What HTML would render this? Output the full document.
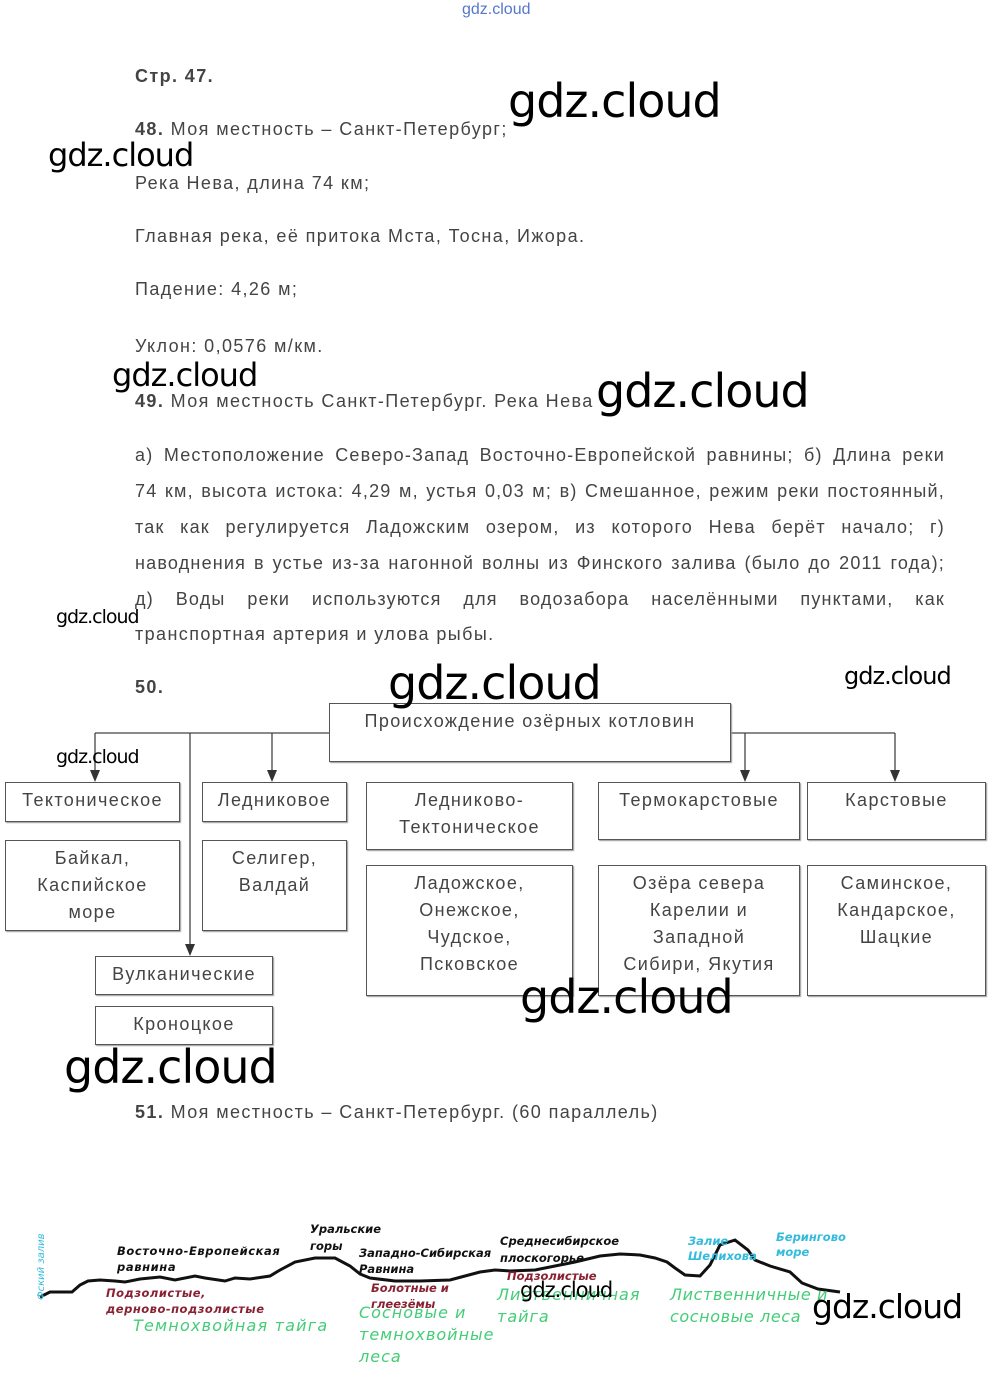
<!DOCTYPE html>
<html><head><meta charset="utf-8"><style>
body{margin:0;width:1000px;height:1380px;background:#fff;position:relative;overflow:hidden;font-family:"Liberation Sans","DejaVu Sans",sans-serif;color:#444}
.t{position:absolute;font-size:18px;white-space:nowrap;letter-spacing:1.4px}
.b{font-weight:bold}
.w{position:absolute;font-family:"DejaVu Sans","Liberation Sans",sans-serif;color:#000;white-space:nowrap;letter-spacing:-1px}
.box{position:absolute;border:1.5px solid #555;box-sizing:border-box;text-align:center;font-size:18px;line-height:27px;color:#444;padding-top:4px;box-shadow:1px 1px 1px #999;letter-spacing:1.4px}
.j{position:absolute;left:135px;width:810px;font-size:18px;line-height:36px;text-align:justify;text-align-last:justify;letter-spacing:1.2px}
.i{position:absolute;font-style:italic;font-family:"DejaVu Sans",sans-serif;white-space:nowrap;font-weight:bold}
</style></head><body>
<div class="t" style="left:462px;top:1px;font-size:16px;color:#5577cc;letter-spacing:0">gdz.cloud</div>
<div class="t b" style="left:135px;top:66px">Стр. 47.</div>
<div class="t" style="left:135px;top:119px"><b>48.</b> Моя местность – Санкт-Петербург;</div>
<div class="w" style="left:508px;top:74px;font-size:46px">gdz.cloud</div>
<div class="w" style="left:48px;top:136px;font-size:32px">gdz.cloud</div>
<div class="t" style="left:135px;top:173px">Река Нева, длина 74 км;</div>
<div class="t" style="left:135px;top:226px">Главная река, её притока Мста, Тосна, Ижора.</div>
<div class="t" style="left:135px;top:279px">Падение: 4,26 м;</div>
<div class="t" style="left:135px;top:336px">Уклон: 0,0576 м/км.</div>
<div class="w" style="left:112px;top:356px;font-size:32px">gdz.cloud</div>
<div class="t" style="left:135px;top:391px"><b>49.</b> Моя местность Санкт-Петербург. Река Нева</div>
<div class="w" style="left:596px;top:364px;font-size:46px">gdz.cloud</div>
<div class="j" style="top:437px">а) Местоположение Северо-Запад Восточно-Европейской равнины; б) Длина реки</div>
<div class="j" style="top:473px">74 км, высота истока: 4,29 м, устья 0,03 м; в) Смешанное, режим реки постоянный,</div>
<div class="j" style="top:509px">так как регулируется Ладожским озером, из которого Нева берёт начало; г)</div>
<div class="j" style="top:545px">наводнения в устье из-за нагонной волны из Финского залива (было до 2011 года);</div>
<div class="j" style="top:581px">д) Воды реки используются для водозабора населёнными пунктами, как</div>
<div class="t" style="left:135px;top:624px">транспортная артерия и улова рыбы.</div>
<div class="w" style="left:56px;top:606px;font-size:19px">gdz.cloud</div>
<div class="t b" style="left:135px;top:677px">50.</div>
<div class="w" style="left:844px;top:662px;font-size:24px">gdz.cloud</div>

<svg style="position:absolute;left:0;top:0" width="1000" height="1380">
<g stroke="#444" stroke-width="1.3" fill="none">
<path d="M95 733H330M730 733H895M95 733V772M272 733V772M745 733V772M895 733V772M190 733V946"/>
</g>
<g fill="#333">
<path d="M90 770h10l-5 12z"/><path d="M267 770h10l-5 12z"/><path d="M740 770h10l-5 12z"/><path d="M890 770h10l-5 12z"/><path d="M185 944h10l-5 12z"/>
</g>
</svg>
<div class="box" style="left:329px;top:703px;width:402px;height:59px">Происхождение озёрных котловин</div>
<div class="w" style="left:388px;top:656px;font-size:46px">gdz.cloud</div>
<div class="w" style="left:56px;top:746px;font-size:19px">gdz.cloud</div>
<div class="box" style="left:5px;top:782px;width:175px;height:40px">Тектоническое</div>
<div class="box" style="left:202px;top:782px;width:145px;height:40px">Ледниковое</div>
<div class="box" style="left:366px;top:782px;width:207px;height:68px">Ледниково-<br>Тектоническое</div>
<div class="box" style="left:598px;top:782px;width:202px;height:58px">Термокарстовые</div>
<div class="box" style="left:807px;top:782px;width:179px;height:58px">Карстовые</div>
<div class="box" style="left:5px;top:840px;width:175px;height:91px">Байкал,<br>Каспийское<br>море</div>
<div class="box" style="left:202px;top:840px;width:145px;height:91px">Селигер,<br>Валдай</div>
<div class="box" style="left:366px;top:865px;width:207px;height:131px">Ладожское,<br>Онежское,<br>Чудское,<br>Псковское</div>
<div class="box" style="left:598px;top:865px;width:202px;height:131px">Озёра севера<br>Карелии и<br>Западной<br>Сибири, Якутия</div>
<div class="box" style="left:807px;top:865px;width:179px;height:131px">Саминское,<br>Кандарское,<br>Шацкие</div>
<div class="box" style="left:95px;top:956px;width:178px;height:39px">Вулканические</div>
<div class="box" style="left:95px;top:1006px;width:178px;height:39px">Кроноцкое</div>
<div class="w" style="left:520px;top:970px;font-size:46px">gdz.cloud</div>
<div class="w" style="left:64px;top:1040px;font-size:46px">gdz.cloud</div>
<div class="t" style="left:135px;top:1102px"><b>51.</b> Моя местность – Санкт-Петербург. (60 параллель)</div>

<svg style="position:absolute;left:0;top:0" width="1000" height="1380">
<path d="M40 1297L50 1292L72 1292L80 1285L88 1281L100 1280L115 1281L125 1282L140 1279L160 1277L175 1280L195 1276L205 1278L225 1281L235 1278L250 1279L270 1276L280 1270L295 1262L315 1258L335 1258L350 1266L360 1274L370 1278L395 1281L420 1281L450 1280L465 1276L480 1272L495 1270L510 1271L535 1270L555 1266L575 1262L600 1256L620 1254L640 1255L655 1258L667 1262L675 1268L685 1275L700 1276L710 1265L720 1245L735 1240L748 1250L755 1260L770 1266L790 1272L802 1283L818 1289L840 1292" stroke="#111" stroke-width="3" fill="none"/>
</svg>
<div class="i" style="left:36px;top:1300px;font-size:10px;color:#33bbdd;transform:rotate(-90deg);transform-origin:0 0;font-weight:normal">Фский залив</div>
<div class="i" style="left:117px;top:1243px;font-size:11.5px;color:#111;line-height:16px;letter-spacing:0.6px">Восточно-Европейская<br>равнина</div>
<div class="i" style="left:106px;top:1285px;font-size:11.5px;color:#882233;line-height:16px;letter-spacing:0.5px">Подзолистые,<br>дерново-подзолистые</div>
<div class="i" style="left:133px;top:1316px;font-size:16px;color:#44cc77;letter-spacing:1.2px;font-weight:normal">Темнохвойная тайга</div>
<div class="i" style="left:310px;top:1221px;font-size:11.5px;color:#111;line-height:17px">Уральские<br>горы</div>
<div class="i" style="left:359px;top:1245px;font-size:11.5px;color:#111;line-height:16px">Западно-Сибирская<br>Равнина</div>
<div class="i" style="left:371px;top:1280px;font-size:11.5px;color:#882233;line-height:16px">Болотные и<br>глеезёмы</div>
<div class="i" style="left:359px;top:1302px;font-size:16px;color:#44cc77;line-height:22px;letter-spacing:1px;font-weight:normal">Сосновые и<br>темнохвойные<br>леса</div>
<div class="i" style="left:500px;top:1233px;font-size:11.5px;color:#111;line-height:17px">Среднесибирское<br>плоскогорье</div>
<div class="i" style="left:507px;top:1269px;font-size:11.5px;color:#882233">Подзолистые</div>
<div class="i" style="left:497px;top:1284px;font-size:16px;color:#44cc77;line-height:22px;letter-spacing:1px;font-weight:normal">Лиственничная<br>тайга</div>
<div class="w" style="left:520px;top:1278px;font-size:21px">gdz.cloud</div>
<div class="i" style="left:688px;top:1234px;font-size:11.5px;color:#33bbdd;line-height:15px">Залие<br>Шелихова</div>
<div class="i" style="left:776px;top:1230px;font-size:11.5px;color:#33bbdd;line-height:15px">Берингово<br>море</div>
<div class="i" style="left:670px;top:1284px;font-size:16px;color:#44cc77;line-height:22px;letter-spacing:0.6px;font-weight:normal">Лиственничные и<br>сосновые леса</div>
<div class="w" style="left:812px;top:1287px;font-size:33px">gdz.cloud</div>
</body></html>
